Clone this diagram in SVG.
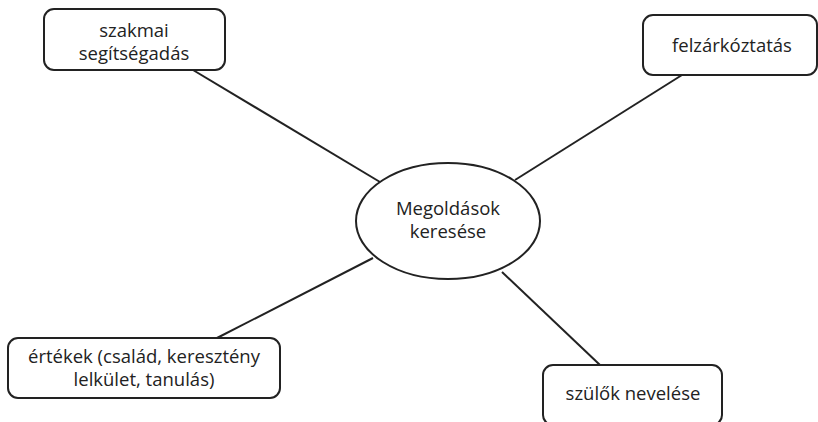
<svg xmlns="http://www.w3.org/2000/svg" width="818" height="422" viewBox="0 0 818 422">
<style>
.box{fill:#fff;stroke:#222;stroke-width:2}
.conn{stroke:#222;stroke-width:2;fill:none}
text{font-family:"Open Sans","Liberation Sans",sans-serif;font-size:18.5px;fill:#222;text-anchor:middle}
</style>
<rect width="818" height="422" fill="#fff"/>
<g id="connectors">
<line class="conn" x1="193" y1="70" x2="380" y2="182"/>
<line class="conn" x1="682" y1="75" x2="515" y2="180"/>
<line class="conn" x1="217" y1="338" x2="373" y2="258"/>
<line class="conn" x1="600" y1="365" x2="502" y2="272"/>
</g>
<g id="center">
<ellipse class="box" cx="448" cy="221" rx="92" ry="58"/>
<text x="448" y="215">Megoldások</text>
<text x="448" y="238">keresése</text>
</g>
<g id="szakmai">
<rect class="box" x="44" y="9" width="181" height="61" rx="10"/>
<text x="134" y="37">szakmai</text>
<text x="134" y="60">segítségadás</text>
</g>
<g id="felzarkoztatas">
<rect class="box" x="643" y="15" width="174" height="60" rx="10"/>
<text x="732" y="51.5">felzárkóztatás</text>
</g>
<g id="ertekek">
<rect class="box" x="8" y="338" width="272" height="60" rx="10"/>
<text x="144" y="363">értékek (család, keresztény</text>
<text x="144" y="386">lelkület, tanulás)</text>
</g>
<g id="szulok">
<rect class="box" x="543" y="365" width="179" height="60" rx="10"/>
<text x="633" y="400">szülők nevelése</text>
</g>
</svg>
